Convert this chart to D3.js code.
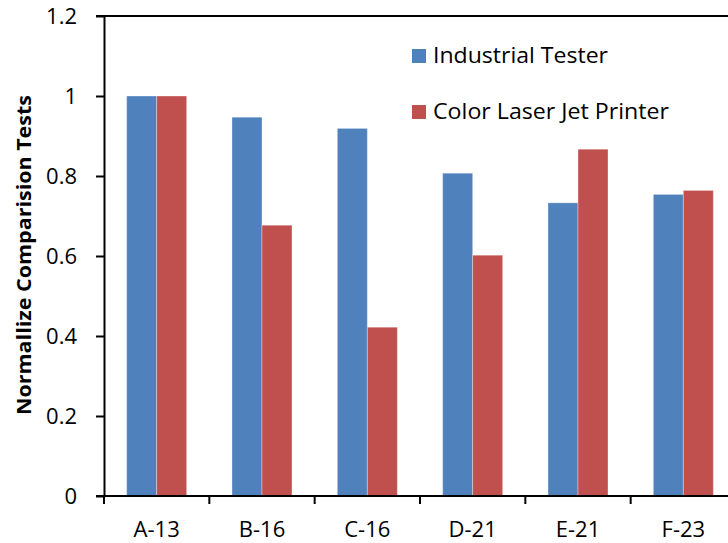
<!DOCTYPE html>
<html>
<head>
<meta charset="utf-8">
<script src="https://cdn.jsdelivr.net/npm/d3@7/dist/d3.min.js"></script>
<style>
  html, body { margin: 0; padding: 0; background: #fff; }
  svg { display: block; font-family: "Open Sans", Lato, sans-serif; }
</style>
</head>
<body>
<svg id="chart" width="728" height="543"></svg>
<script>
// Sample groups and normalized test results for each device
const categories = ["A-13", "B-16", "C-16", "D-21", "E-21", "F-23"];
const seriesNames = ["Industrial Tester", "Color Laser Jet Printer"];
const industrialTester = [1.0, 0.947, 0.919, 0.807, 0.733, 0.754];
const colorLaserJet = [1.0, 0.677, 0.422, 0.602, 0.867, 0.764];
const yTicks = [0, 0.2, 0.4, 0.6, 0.8, 1.0, 1.2];
const colors = ["#4F81BD", "#C0504D"];

const svg = d3.select("#chart");
const plot = { left: 104, right: 736, top: 16, bottom: 496 };
const font = "\"Open Sans\", Lato, sans-serif";

const x0 = d3.scaleBand().domain(categories).range([plot.left, plot.right]).padding(0);
const x1 = d3.scaleBand().domain(seriesNames).range([0, x0.bandwidth()])
  .paddingInner(0).paddingOuter(0.755);
const y = d3.scaleLinear().domain([0, 1.2]).range([plot.bottom, plot.top]);

const rows = categories.map((c, i) => ({
  cat: c,
  vals: [industrialTester[i], colorLaserJet[i]]
}));

// Bars
const groups = svg.append("g").selectAll("g").data(rows).join("g")
  .attr("transform", d => `translate(${x0(d.cat)},0)`);
groups.selectAll("rect")
  .data(d => d.vals.map((v, k) => ({ name: seriesNames[k], v, k })))
  .join("rect")
  .attr("x", d => x1(d.name))
  .attr("y", d => y(d.v))
  .attr("width", x1.bandwidth())
  .attr("height", d => y(0) - y(d.v))
  .attr("fill", d => colors[d.k])
  .attr("stroke", "rgba(255,255,255,0.35)")
  .attr("stroke-width", 1);

// Top frame line
svg.append("line")
  .attr("x1", plot.left - 8).attr("x2", plot.right)
  .attr("y1", plot.top).attr("y2", plot.top)
  .attr("stroke", "#000").attr("stroke-width", 2);

// Y axis
const yAxis = svg.append("g")
  .attr("transform", `translate(${plot.left},0)`)
  .call(d3.axisLeft(y).tickValues(yTicks).tickFormat(d3.format("~g"))
    .tickSize(8).tickPadding(19).tickSizeOuter(0));
yAxis.select(".domain").attr("stroke", "#000").attr("stroke-width", 2);
yAxis.selectAll(".tick line").attr("stroke", "#000").attr("stroke-width", 2);
yAxis.selectAll(".tick text").attr("font-size", 22).attr("fill", "#000")
  .attr("font-family", font);

// X axis: baseline plus boundary ticks between groups
const xg = svg.append("g");
xg.append("line")
  .attr("x1", plot.left - 8).attr("x2", plot.right)
  .attr("y1", plot.bottom).attr("y2", plot.bottom)
  .attr("stroke", "#000").attr("stroke-width", 2);
const boundaries = categories.map(c => x0(c)).concat([x0(categories[categories.length - 1]) + x0.bandwidth()]);
xg.selectAll(".xt").data(boundaries).join("line")
  .attr("x1", d => d).attr("x2", d => d)
  .attr("y1", plot.bottom).attr("y2", plot.bottom + 8)
  .attr("stroke", "#000").attr("stroke-width", 2);
xg.selectAll(".xl").data(categories).join("text")
  .attr("x", d => x0(d) + x0.bandwidth() / 2)
  .attr("y", 537)
  .attr("text-anchor", "middle")
  .attr("font-size", 22)
  .attr("fill", "#000")
  .text(d => d);

// Y axis title
svg.append("text")
  .attr("transform", `translate(31,${(plot.top + plot.bottom) / 2 - 1}) rotate(-90)`)
  .attr("text-anchor", "middle")
  .attr("font-size", 19)
  .attr("font-weight", "bold")
  .attr("fill", "#000")
  .attr("textLength", 320)
  .attr("lengthAdjust", "spacingAndGlyphs")
  .text("Normallize Comparision Tests");

// Legend
const legend = svg.append("g").attr("transform", "translate(412,49)");
const items = legend.selectAll("g").data(seriesNames).join("g")
  .attr("transform", (d, i) => `translate(0,${i * 56})`);
items.append("rect").attr("width", 14).attr("height", 14)
  .attr("fill", (d, i) => colors[i]);
items.append("text").attr("x", 21).attr("y", 14)
  .attr("font-size", 21).attr("fill", "#000")
  .attr("textLength", (d, i) => i === 0 ? 175 : 236)
  .attr("lengthAdjust", "spacingAndGlyphs")
  .text(d => d);
</script>
</body>
</html>
